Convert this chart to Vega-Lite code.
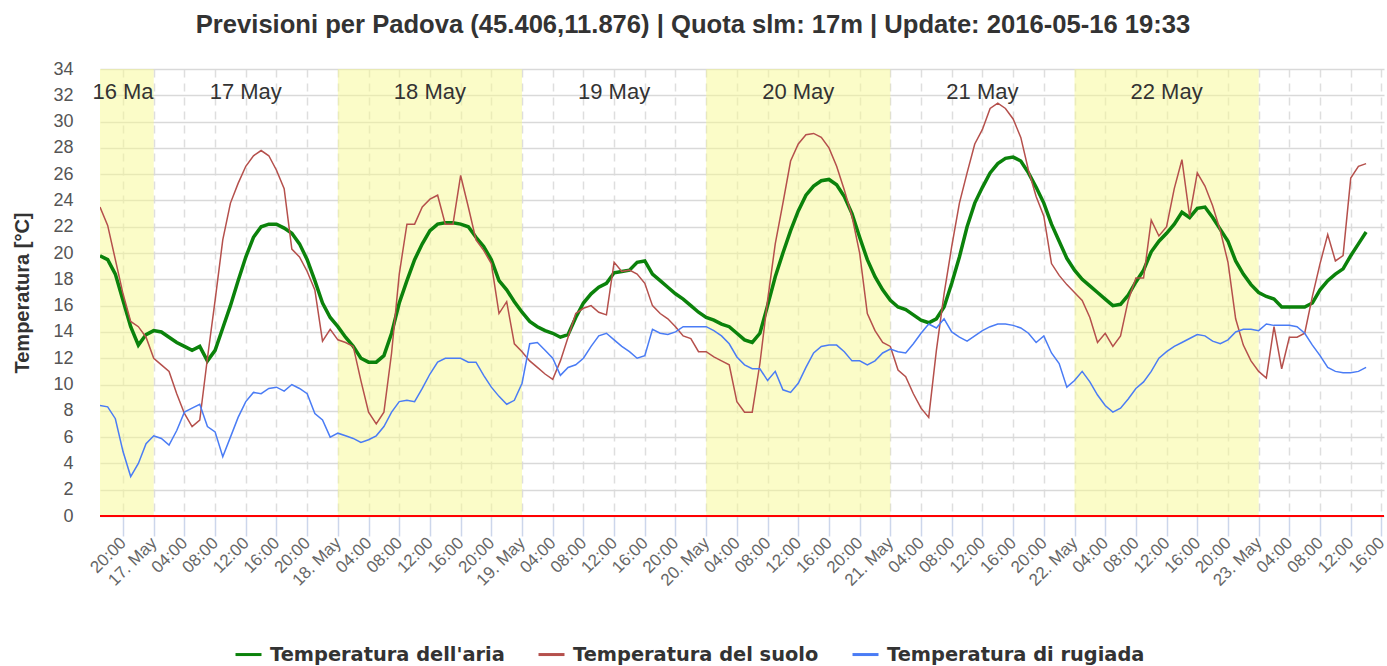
{
  "$schema": "https://vega.github.io/schema/vega-lite/v6.json",
  "width": 1284,
  "height": 447,
  "autosize": {"type": "none"},
  "padding": {"left": 100, "top": 69, "right": 3, "bottom": 150},
  "background": "white",
  "title": {
    "text": "Previsioni per Padova (45.406,11.876) | Quota slm: 17m | Update: 2016-05-16 19:33",
    "font": "Liberation Sans", "fontSize": 25.6, "fontWeight": "bold", "color": "#333333",
    "anchor": "middle", "dx": -49, "offset": 21
  },
  "config": {"view": {"stroke": null}, "font": "Liberation Sans"},
  "data": {"format": {"parse": {"t": "utc:'%Y-%m-%dT%H:%M'"}}, "values": [
    {"t":"2016-05-16T17:00","a":19.8,"s":23.5,"r":8.4},
    {"t":"2016-05-16T18:00","a":19.5,"s":22.1,"r":8.3},
    {"t":"2016-05-16T19:00","a":18.4,"s":19.5,"r":7.4},
    {"t":"2016-05-16T20:00","a":16.4,"s":16.9,"r":4.9},
    {"t":"2016-05-16T21:00","a":14.4,"s":14.8,"r":3.0},
    {"t":"2016-05-16T22:00","a":13.0,"s":14.4,"r":4.0},
    {"t":"2016-05-16T23:00","a":13.8,"s":13.6,"r":5.5},
    {"t":"2016-05-17T00:00","a":14.1,"s":12.0,"r":6.1},
    {"t":"2016-05-17T01:00","a":14.0,"s":11.5,"r":5.9},
    {"t":"2016-05-17T02:00","a":13.6,"s":11.0,"r":5.4},
    {"t":"2016-05-17T03:00","a":13.2,"s":9.3,"r":6.5},
    {"t":"2016-05-17T04:00","a":12.9,"s":7.8,"r":7.9},
    {"t":"2016-05-17T05:00","a":12.6,"s":6.8,"r":8.2},
    {"t":"2016-05-17T06:00","a":12.9,"s":7.3,"r":8.5},
    {"t":"2016-05-17T07:00","a":11.8,"s":12.0,"r":6.8},
    {"t":"2016-05-17T08:00","a":12.6,"s":16.4,"r":6.4},
    {"t":"2016-05-17T09:00","a":14.3,"s":21.0,"r":4.5},
    {"t":"2016-05-17T10:00","a":16.0,"s":23.8,"r":6.0},
    {"t":"2016-05-17T11:00","a":17.9,"s":25.3,"r":7.5},
    {"t":"2016-05-17T12:00","a":19.7,"s":26.6,"r":8.7},
    {"t":"2016-05-17T13:00","a":21.2,"s":27.4,"r":9.4},
    {"t":"2016-05-17T14:00","a":22.0,"s":27.8,"r":9.3},
    {"t":"2016-05-17T15:00","a":22.2,"s":27.4,"r":9.7},
    {"t":"2016-05-17T16:00","a":22.2,"s":26.3,"r":9.8},
    {"t":"2016-05-17T17:00","a":21.9,"s":24.9,"r":9.5},
    {"t":"2016-05-17T18:00","a":21.5,"s":20.3,"r":10.0},
    {"t":"2016-05-17T19:00","a":20.7,"s":19.7,"r":9.7},
    {"t":"2016-05-17T20:00","a":19.5,"s":18.6,"r":9.3},
    {"t":"2016-05-17T21:00","a":17.9,"s":17.2,"r":7.8},
    {"t":"2016-05-17T22:00","a":16.2,"s":13.3,"r":7.3},
    {"t":"2016-05-17T23:00","a":15.1,"s":14.2,"r":6.0},
    {"t":"2016-05-18T00:00","a":14.4,"s":13.4,"r":6.3},
    {"t":"2016-05-18T01:00","a":13.6,"s":13.2,"r":6.1},
    {"t":"2016-05-18T02:00","a":12.9,"s":12.9,"r":5.9},
    {"t":"2016-05-18T03:00","a":12.0,"s":10.3,"r":5.6},
    {"t":"2016-05-18T04:00","a":11.7,"s":7.9,"r":5.8},
    {"t":"2016-05-18T05:00","a":11.7,"s":7.0,"r":6.1},
    {"t":"2016-05-18T06:00","a":12.2,"s":7.9,"r":6.8},
    {"t":"2016-05-18T07:00","a":13.9,"s":12.4,"r":7.9},
    {"t":"2016-05-18T08:00","a":16.2,"s":18.4,"r":8.7},
    {"t":"2016-05-18T09:00","a":17.9,"s":22.2,"r":8.8},
    {"t":"2016-05-18T10:00","a":19.5,"s":22.2,"r":8.7},
    {"t":"2016-05-18T11:00","a":20.7,"s":23.5,"r":9.7},
    {"t":"2016-05-18T12:00","a":21.7,"s":24.1,"r":10.8},
    {"t":"2016-05-18T13:00","a":22.2,"s":24.4,"r":11.7},
    {"t":"2016-05-18T14:00","a":22.3,"s":22.2,"r":12.0},
    {"t":"2016-05-18T15:00","a":22.3,"s":22.2,"r":12.0},
    {"t":"2016-05-18T16:00","a":22.2,"s":25.9,"r":12.0},
    {"t":"2016-05-18T17:00","a":22.0,"s":23.5,"r":11.7},
    {"t":"2016-05-18T18:00","a":21.2,"s":21.0,"r":11.7},
    {"t":"2016-05-18T19:00","a":20.5,"s":20.2,"r":10.7},
    {"t":"2016-05-18T20:00","a":19.5,"s":19.2,"r":9.8},
    {"t":"2016-05-18T21:00","a":17.9,"s":15.4,"r":9.1},
    {"t":"2016-05-18T22:00","a":17.2,"s":16.3,"r":8.5},
    {"t":"2016-05-18T23:00","a":16.3,"s":13.1,"r":8.8},
    {"t":"2016-05-19T00:00","a":15.5,"s":12.5,"r":10.1},
    {"t":"2016-05-19T01:00","a":14.8,"s":11.8,"r":13.1},
    {"t":"2016-05-19T02:00","a":14.4,"s":11.3,"r":13.2},
    {"t":"2016-05-19T03:00","a":14.1,"s":10.8,"r":12.6},
    {"t":"2016-05-19T04:00","a":13.9,"s":10.4,"r":12.0},
    {"t":"2016-05-19T05:00","a":13.6,"s":11.8,"r":10.7},
    {"t":"2016-05-19T06:00","a":13.8,"s":13.6,"r":11.3},
    {"t":"2016-05-19T07:00","a":15.1,"s":15.4,"r":11.5},
    {"t":"2016-05-19T08:00","a":16.2,"s":15.8,"r":12.0},
    {"t":"2016-05-19T09:00","a":16.9,"s":16.0,"r":12.9},
    {"t":"2016-05-19T10:00","a":17.4,"s":15.5,"r":13.7},
    {"t":"2016-05-19T11:00","a":17.7,"s":15.3,"r":13.9},
    {"t":"2016-05-19T12:00","a":18.5,"s":19.3,"r":13.4},
    {"t":"2016-05-19T13:00","a":18.6,"s":18.6,"r":12.9},
    {"t":"2016-05-19T14:00","a":18.7,"s":18.7,"r":12.5},
    {"t":"2016-05-19T15:00","a":19.3,"s":18.4,"r":12.0},
    {"t":"2016-05-19T16:00","a":19.4,"s":17.7,"r":12.2},
    {"t":"2016-05-19T17:00","a":18.4,"s":16.0,"r":14.2},
    {"t":"2016-05-19T18:00","a":17.9,"s":15.4,"r":13.9},
    {"t":"2016-05-19T19:00","a":17.4,"s":15.0,"r":13.8},
    {"t":"2016-05-19T20:00","a":16.9,"s":14.4,"r":14.0},
    {"t":"2016-05-19T21:00","a":16.5,"s":13.7,"r":14.4},
    {"t":"2016-05-19T22:00","a":16.0,"s":13.5,"r":14.4},
    {"t":"2016-05-19T23:00","a":15.5,"s":12.5,"r":14.4},
    {"t":"2016-05-20T00:00","a":15.1,"s":12.5,"r":14.4},
    {"t":"2016-05-20T01:00","a":14.9,"s":12.1,"r":14.1},
    {"t":"2016-05-20T02:00","a":14.6,"s":11.8,"r":13.7},
    {"t":"2016-05-20T03:00","a":14.4,"s":11.5,"r":13.1},
    {"t":"2016-05-20T04:00","a":13.9,"s":8.7,"r":12.1},
    {"t":"2016-05-20T05:00","a":13.4,"s":7.9,"r":11.5},
    {"t":"2016-05-20T06:00","a":13.2,"s":7.9,"r":11.2},
    {"t":"2016-05-20T07:00","a":13.9,"s":11.6,"r":11.2},
    {"t":"2016-05-20T08:00","a":16.0,"s":16.4,"r":10.3},
    {"t":"2016-05-20T09:00","a":18.2,"s":20.7,"r":11.0},
    {"t":"2016-05-20T10:00","a":20.0,"s":23.8,"r":9.6},
    {"t":"2016-05-20T11:00","a":21.7,"s":27.0,"r":9.4},
    {"t":"2016-05-20T12:00","a":23.2,"s":28.3,"r":10.1},
    {"t":"2016-05-20T13:00","a":24.4,"s":29.0,"r":11.3},
    {"t":"2016-05-20T14:00","a":25.1,"s":29.1,"r":12.4},
    {"t":"2016-05-20T15:00","a":25.5,"s":28.8,"r":12.9},
    {"t":"2016-05-20T16:00","a":25.6,"s":28.0,"r":13.0},
    {"t":"2016-05-20T17:00","a":25.2,"s":26.6,"r":13.0},
    {"t":"2016-05-20T18:00","a":24.3,"s":24.8,"r":12.5},
    {"t":"2016-05-20T19:00","a":23.0,"s":22.8,"r":11.8},
    {"t":"2016-05-20T20:00","a":21.2,"s":20.0,"r":11.8},
    {"t":"2016-05-20T21:00","a":19.5,"s":15.4,"r":11.5},
    {"t":"2016-05-20T22:00","a":18.2,"s":14.1,"r":11.8},
    {"t":"2016-05-20T23:00","a":17.2,"s":13.2,"r":12.4},
    {"t":"2016-05-21T00:00","a":16.4,"s":12.9,"r":12.7},
    {"t":"2016-05-21T01:00","a":15.9,"s":11.1,"r":12.5},
    {"t":"2016-05-21T02:00","a":15.7,"s":10.6,"r":12.4},
    {"t":"2016-05-21T03:00","a":15.3,"s":9.3,"r":13.1},
    {"t":"2016-05-21T04:00","a":14.9,"s":8.2,"r":13.9},
    {"t":"2016-05-21T05:00","a":14.7,"s":7.5,"r":14.6},
    {"t":"2016-05-21T06:00","a":15.0,"s":12.6,"r":14.3},
    {"t":"2016-05-21T07:00","a":15.9,"s":16.9,"r":15.0},
    {"t":"2016-05-21T08:00","a":17.7,"s":20.5,"r":14.0},
    {"t":"2016-05-21T09:00","a":19.7,"s":23.8,"r":13.6},
    {"t":"2016-05-21T10:00","a":22.0,"s":26.1,"r":13.3},
    {"t":"2016-05-21T11:00","a":23.8,"s":28.3,"r":13.7},
    {"t":"2016-05-21T12:00","a":25.0,"s":29.4,"r":14.1},
    {"t":"2016-05-21T13:00","a":26.1,"s":31.0,"r":14.4},
    {"t":"2016-05-21T14:00","a":26.8,"s":31.4,"r":14.6},
    {"t":"2016-05-21T15:00","a":27.2,"s":31.0,"r":14.6},
    {"t":"2016-05-21T16:00","a":27.3,"s":30.2,"r":14.5},
    {"t":"2016-05-21T17:00","a":27.0,"s":28.8,"r":14.3},
    {"t":"2016-05-21T18:00","a":26.1,"s":26.3,"r":13.9},
    {"t":"2016-05-21T19:00","a":25.0,"s":24.3,"r":13.2},
    {"t":"2016-05-21T20:00","a":23.8,"s":22.8,"r":13.7},
    {"t":"2016-05-21T21:00","a":22.2,"s":19.2,"r":12.4},
    {"t":"2016-05-21T22:00","a":20.9,"s":18.3,"r":11.6},
    {"t":"2016-05-21T23:00","a":19.6,"s":17.6,"r":9.8},
    {"t":"2016-05-22T00:00","a":18.7,"s":17.0,"r":10.3},
    {"t":"2016-05-22T01:00","a":18.0,"s":16.4,"r":11.0},
    {"t":"2016-05-22T02:00","a":17.5,"s":15.1,"r":10.2},
    {"t":"2016-05-22T03:00","a":17.0,"s":13.2,"r":9.2},
    {"t":"2016-05-22T04:00","a":16.5,"s":13.9,"r":8.4},
    {"t":"2016-05-22T05:00","a":16.0,"s":12.9,"r":7.9},
    {"t":"2016-05-22T06:00","a":16.1,"s":13.7,"r":8.2},
    {"t":"2016-05-22T07:00","a":16.8,"s":16.4,"r":8.9},
    {"t":"2016-05-22T08:00","a":17.8,"s":18.1,"r":9.7},
    {"t":"2016-05-22T09:00","a":18.7,"s":18.1,"r":10.2},
    {"t":"2016-05-22T10:00","a":20.1,"s":22.5,"r":11.0},
    {"t":"2016-05-22T11:00","a":20.9,"s":21.3,"r":12.0},
    {"t":"2016-05-22T12:00","a":21.5,"s":22.0,"r":12.5},
    {"t":"2016-05-22T13:00","a":22.2,"s":24.9,"r":12.9},
    {"t":"2016-05-22T14:00","a":23.1,"s":27.1,"r":13.2},
    {"t":"2016-05-22T15:00","a":22.7,"s":22.8,"r":13.5},
    {"t":"2016-05-22T16:00","a":23.4,"s":26.1,"r":13.8},
    {"t":"2016-05-22T17:00","a":23.5,"s":25.1,"r":13.7},
    {"t":"2016-05-22T18:00","a":22.7,"s":23.6,"r":13.3},
    {"t":"2016-05-22T19:00","a":21.8,"s":21.7,"r":13.1},
    {"t":"2016-05-22T20:00","a":20.9,"s":19.3,"r":13.4},
    {"t":"2016-05-22T21:00","a":19.4,"s":15.0,"r":14.0},
    {"t":"2016-05-22T22:00","a":18.4,"s":13.0,"r":14.2},
    {"t":"2016-05-22T23:00","a":17.6,"s":11.8,"r":14.2},
    {"t":"2016-05-23T00:00","a":17.0,"s":11.0,"r":14.1},
    {"t":"2016-05-23T01:00","a":16.7,"s":10.5,"r":14.6},
    {"t":"2016-05-23T02:00","a":16.5,"s":14.4,"r":14.5},
    {"t":"2016-05-23T03:00","a":15.9,"s":11.2,"r":14.5},
    {"t":"2016-05-23T04:00","a":15.9,"s":13.6,"r":14.5},
    {"t":"2016-05-23T05:00","a":15.9,"s":13.6,"r":14.4},
    {"t":"2016-05-23T06:00","a":15.9,"s":13.9,"r":13.9},
    {"t":"2016-05-23T07:00","a":16.2,"s":16.7,"r":13.0},
    {"t":"2016-05-23T08:00","a":17.2,"s":19.2,"r":12.2},
    {"t":"2016-05-23T09:00","a":17.9,"s":21.4,"r":11.3},
    {"t":"2016-05-23T10:00","a":18.4,"s":19.4,"r":11.0},
    {"t":"2016-05-23T11:00","a":18.8,"s":19.8,"r":10.9},
    {"t":"2016-05-23T12:00","a":19.8,"s":25.7,"r":10.9},
    {"t":"2016-05-23T13:00","a":20.7,"s":26.6,"r":11.0},
    {"t":"2016-05-23T14:00","a":21.6,"s":26.8,"r":11.3}
  ]},
  "layer": [
    {
      "data": {"format": {"parse": {"b": "utc:'%Y-%m-%dT%H:%M'", "e": "utc:'%Y-%m-%dT%H:%M'"}}, "values": [
        {"b": "2016-05-16T17:00", "e": "2016-05-17T00:00"},
        {"b": "2016-05-18T00:00", "e": "2016-05-19T00:00"},
        {"b": "2016-05-20T00:00", "e": "2016-05-21T00:00"},
        {"b": "2016-05-22T00:00", "e": "2016-05-23T00:00"}
      ]},
      "mark": {"type": "rect", "color": "#f7f991", "opacity": 0.5},
      "encoding": {
        "x": {
          "field": "b", "type": "temporal", "title": null,
          "scale": {"type": "utc", "domain": [1463418000000, 1464020400000]},
          "axis": {
            "title": null, "domain": false, "tickCount": 100,
            "labelExpr": "utchours(datum.value) == 0 ? utcFormat(datum.value, '%d. %b') : utcFormat(datum.value, '%H:%M')",
            "values": [1463428800000, 1463443200000, 1463457600000, 1463472000000, 1463486400000, 1463500800000,
                       1463515200000, 1463529600000, 1463544000000, 1463558400000, 1463572800000, 1463587200000,
                       1463601600000, 1463616000000, 1463630400000, 1463644800000, 1463659200000, 1463673600000,
                       1463688000000, 1463702400000, 1463716800000, 1463731200000, 1463745600000, 1463760000000,
                       1463774400000, 1463788800000, 1463803200000, 1463817600000, 1463832000000, 1463846400000,
                       1463860800000, 1463875200000, 1463889600000, 1463904000000, 1463918400000, 1463932800000,
                       1463947200000, 1463961600000, 1463976000000, 1463990400000, 1464004800000, 1464019200000],
            "labelAngle": -45, "labelAlign": "right", "labelBaseline": "middle",
            "labelFont": "Liberation Sans", "labelFontSize": 17, "labelColor": "#666666",
            "labelPadding": 4, "labelOverlap": false,
            "tickColor": "#ccd6eb", "tickSize": 20, "tickWidth": 1.5,
            "grid": true, "gridColor": "#dedede", "gridDash": [8, 6], "gridWidth": 1.5
          }
        },
        "x2": {"field": "e"},
        "y": {
          "datum": 34, "type": "quantitative",
          "scale": {"domain": [0, 34], "nice": false},
          "axis": {
            "title": "Temperatura [°C]", "tickCount": 100, "format": ".0f",
            "values": [0, 2, 4, 6, 8, 10, 12, 14, 16, 18, 20, 22, 24, 26, 28, 30, 32, 34],
            "domain": false, "ticks": false, "labelPadding": 27, "labelOverlap": false,
            "labelFont": "Liberation Sans", "labelFontSize": 18, "labelColor": "#555555",
            "grid": true, "gridColor": "#d9d9d9", "gridWidth": 1.5,
            "titleFont": "Liberation Sans", "titleFontSize": 20, "titleFontWeight": "bold", "titleColor": "#333333",
            "titlePadding": 20
          }
        },
        "y2": {"datum": 0}
      }
    },
    {
      "data": {"format": {"parse": {"t": "utc:'%Y-%m-%dT%H:%M'"}}, "values": [
        {"t": "2016-05-16T20:00", "d": "16 Ma"},
        {"t": "2016-05-17T12:00", "d": "17 May"},
        {"t": "2016-05-18T12:00", "d": "18 May"},
        {"t": "2016-05-19T12:00", "d": "19 May"},
        {"t": "2016-05-20T12:00", "d": "20 May"},
        {"t": "2016-05-21T12:00", "d": "21 May"},
        {"t": "2016-05-22T12:00", "d": "22 May"}
      ]},
      "mark": {"type": "text", "font": "Liberation Sans", "fontSize": 22, "color": "#333333", "baseline": "middle", "align": "center"},
      "encoding": {
        "x": {"field": "t", "type": "temporal"},
        "y": {"datum": 32.25, "type": "quantitative"},
        "text": {"field": "d"}
      }
    },
    {
      "mark": {"type": "line", "strokeWidth": 3.5, "clip": true},
      "encoding": {
        "x": {"field": "t", "type": "temporal"},
        "y": {"field": "a", "type": "quantitative"},
        "color": {
          "datum": "Temperatura dell'aria",
          "scale": {"domain": ["Temperatura dell'aria", "Temperatura del suolo", "Temperatura di rugiada"], "range": ["#0b820b", "#b5504c", "#4a7cf5"]},
          "legend": {
            "orient": "none", "legendX": 134, "legendY": 571, "direction": "horizontal", "title": null,
            "labelFont": "DejaVu Sans", "labelFontSize": 19.4, "labelFontWeight": "bold", "labelColor": "#333333",
            "symbolType": "stroke", "symbolSize": 676, "symbolStrokeWidth": 3, "labelOffset": 7, "columnPadding": 27, "labelLimit": 400
          }
        }
      }
    },
    {
      "mark": {"type": "line", "strokeWidth": 1.5, "clip": true},
      "encoding": {
        "x": {"field": "t", "type": "temporal"},
        "y": {"field": "s", "type": "quantitative"},
        "color": {"datum": "Temperatura del suolo"}
      }
    },
    {
      "mark": {"type": "line", "strokeWidth": 1.5, "clip": true},
      "encoding": {
        "x": {"field": "t", "type": "temporal"},
        "y": {"field": "r", "type": "quantitative"},
        "color": {"datum": "Temperatura di rugiada"}
      }
    },
    {
      "data": {"values": [{}]},
      "mark": {"type": "rule", "color": "#ff0000", "strokeWidth": 2},
      "encoding": {"y": {"datum": 0, "type": "quantitative"}}
    }
  ]
}
